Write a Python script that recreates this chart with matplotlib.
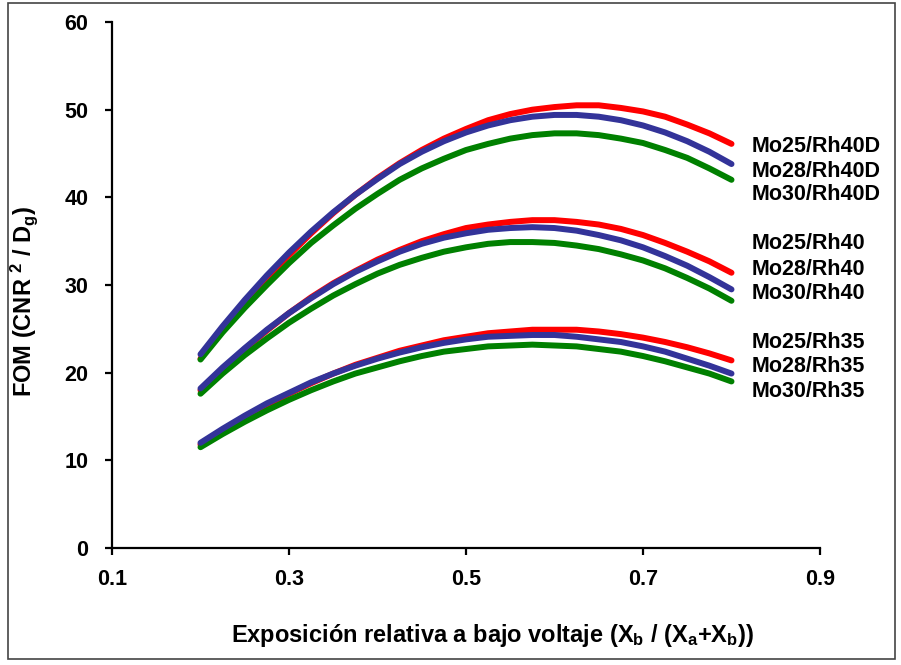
import matplotlib
matplotlib.use("Agg")
import matplotlib.pyplot as plt
from matplotlib.patches import Rectangle

plt.rcParams['font.family'] = ['Liberation Sans', 'DejaVu Sans']
plt.rcParams['font.weight'] = 'bold'
plt.rcParams['mathtext.fontset'] = 'custom'
plt.rcParams['mathtext.rm'] = 'Liberation Sans:bold'
plt.rcParams['mathtext.it'] = 'Liberation Sans:bold'
plt.rcParams['mathtext.bf'] = 'Liberation Sans:bold'
plt.rcParams['mathtext.default'] = 'rm'

# exposure fraction at low voltage
x = [0.200, 0.225, 0.250, 0.275, 0.300, 0.325, 0.350, 0.375, 0.400,
     0.425, 0.450, 0.475, 0.500, 0.525, 0.550, 0.575, 0.600, 0.625,
     0.650, 0.675, 0.700, 0.725, 0.750, 0.775, 0.800]

# FOM per anode/filter combination
mo25_rh40d = [21.6, 24.9, 27.9, 30.8, 33.4, 35.9, 38.2, 40.3, 42.2, 43.9, 45.4, 46.7, 47.8,
              48.8, 49.5, 50.0, 50.3, 50.5, 50.5, 50.2, 49.8, 49.2, 48.3, 47.3, 46.1]
mo28_rh40d = [22.1, 25.3, 28.3, 31.1, 33.7, 36.1, 38.3, 40.3, 42.1, 43.8, 45.2, 46.4, 47.4,
              48.2, 48.8, 49.2, 49.4, 49.4, 49.2, 48.8, 48.2, 47.4, 46.4, 45.2, 43.8]
mo30_rh40d = [21.5, 24.6, 27.4, 30.0, 32.5, 34.8, 36.8, 38.7, 40.4, 42.0, 43.3, 44.4, 45.4,
              46.1, 46.7, 47.1, 47.3, 47.3, 47.1, 46.7, 46.2, 45.4, 44.5, 43.3, 42.0]
mo25_rh40 = [18.0, 20.4, 22.7, 24.8, 26.8, 28.6, 30.2, 31.6, 32.9, 34.0, 35.0, 35.8, 36.5,
             36.9, 37.2, 37.4, 37.4, 37.2, 36.9, 36.4, 35.7, 34.8, 33.8, 32.7, 31.4]
mo28_rh40 = [18.2, 20.6, 22.8, 24.9, 26.8, 28.5, 30.1, 31.5, 32.7, 33.8, 34.7, 35.4, 35.9,
             36.3, 36.5, 36.6, 36.5, 36.2, 35.7, 35.1, 34.3, 33.3, 32.2, 30.9, 29.5]
mo30_rh40 = [17.6, 19.9, 22.0, 23.9, 25.7, 27.3, 28.8, 30.1, 31.3, 32.3, 33.1, 33.8, 34.3,
             34.7, 34.9, 34.9, 34.8, 34.5, 34.1, 33.5, 32.8, 31.9, 30.8, 29.6, 28.2]
mo25_rh35 = [11.8, 13.4, 14.9, 16.3, 17.6, 18.8, 19.9, 20.9, 21.7, 22.5, 23.1, 23.7, 24.1,
             24.5, 24.7, 24.9, 24.9, 24.9, 24.7, 24.4, 24.0, 23.5, 22.9, 22.2, 21.4]
mo28_rh35 = [12.0, 13.6, 15.1, 16.5, 17.7, 18.9, 19.9, 20.8, 21.6, 22.3, 22.9, 23.4, 23.8,
             24.1, 24.2, 24.3, 24.3, 24.1, 23.8, 23.5, 23.0, 22.4, 21.6, 20.8, 19.9]
mo30_rh35 = [11.5, 13.0, 14.4, 15.7, 16.9, 18.0, 19.0, 19.9, 20.6, 21.3, 21.9, 22.4, 22.7,
             23.0, 23.1, 23.2, 23.1, 23.0, 22.7, 22.4, 21.9, 21.3, 20.6, 19.9, 19.0]

series = [
    ("Mo25/Rh40D", mo25_rh40d, "#ff0000"),
    ("Mo28/Rh40D", mo28_rh40d, "#333399"),
    ("Mo30/Rh40D", mo30_rh40d, "#008000"),
    ("Mo25/Rh40", mo25_rh40, "#ff0000"),
    ("Mo28/Rh40", mo28_rh40, "#333399"),
    ("Mo30/Rh40", mo30_rh40, "#008000"),
    ("Mo25/Rh35", mo25_rh35, "#ff0000"),
    ("Mo28/Rh35", mo28_rh35, "#333399"),
    ("Mo30/Rh35", mo30_rh35, "#008000"),
]
label_y = [45.8, 43.0, 40.3, 34.7, 31.8, 29.05, 23.5, 20.7, 17.8]
zorders = {"#ff0000": 2, "#008000": 3, "#333399": 4}

fig = plt.figure(figsize=(9.01, 6.65), dpi=100)
ax = fig.add_axes([0.1243, 0.1759, 0.7858, 0.7910])

for (name, vals, col), ly in zip(series, label_y):
    ax.plot(x, vals, color=col, lw=4.3, solid_capstyle='round',
            solid_joinstyle='round', zorder=zorders[col])
    ax.text(0.823, ly, name, fontsize=15.5, fontweight='bold', va='center', ha='left')

ax.set_xlim(0.1, 0.9)
ax.set_ylim(0, 60)
ax.set_xticks([0.1, 0.3, 0.5, 0.7, 0.9])
ax.set_xticklabels(["0.1", "0.3", "0.5", "0.7", "0.9"])
ax.set_yticks([0, 10, 20, 30, 40, 50, 60])

for s in ["top", "right"]:
    ax.spines[s].set_visible(False)
for s in ["left", "bottom"]:
    ax.spines[s].set_linewidth(1.6)
ax.tick_params(axis='both', direction='out', length=5, width=1.6, labelsize=15.5)
ax.tick_params(axis='x', pad=10)
ax.tick_params(axis='y', pad=12)
for lab in ax.get_xticklabels() + ax.get_yticklabels():
    lab.set_fontweight('bold')

ax.set_xlabel(r"Exposición relativa a bajo voltaje (X$_b$ / (X$_a$+X$_b$))",
              fontsize=17, fontweight='bold')
ax.xaxis.set_label_coords(0.537, -0.141)
ax.set_ylabel(r"FOM (CNR $^2$ / D$_g$)", fontsize=17, fontweight='bold')
ax.yaxis.set_label_coords(-0.102, 0.468)

# frame around the whole chart
fig.patches.append(Rectangle((8 / 901, 1 - 659 / 665), 887 / 901, 656 / 665,
                             transform=fig.transFigure, fill=False,
                             edgecolor="#444444", lw=1.2))

fig.savefig("out.png", dpi=100)
